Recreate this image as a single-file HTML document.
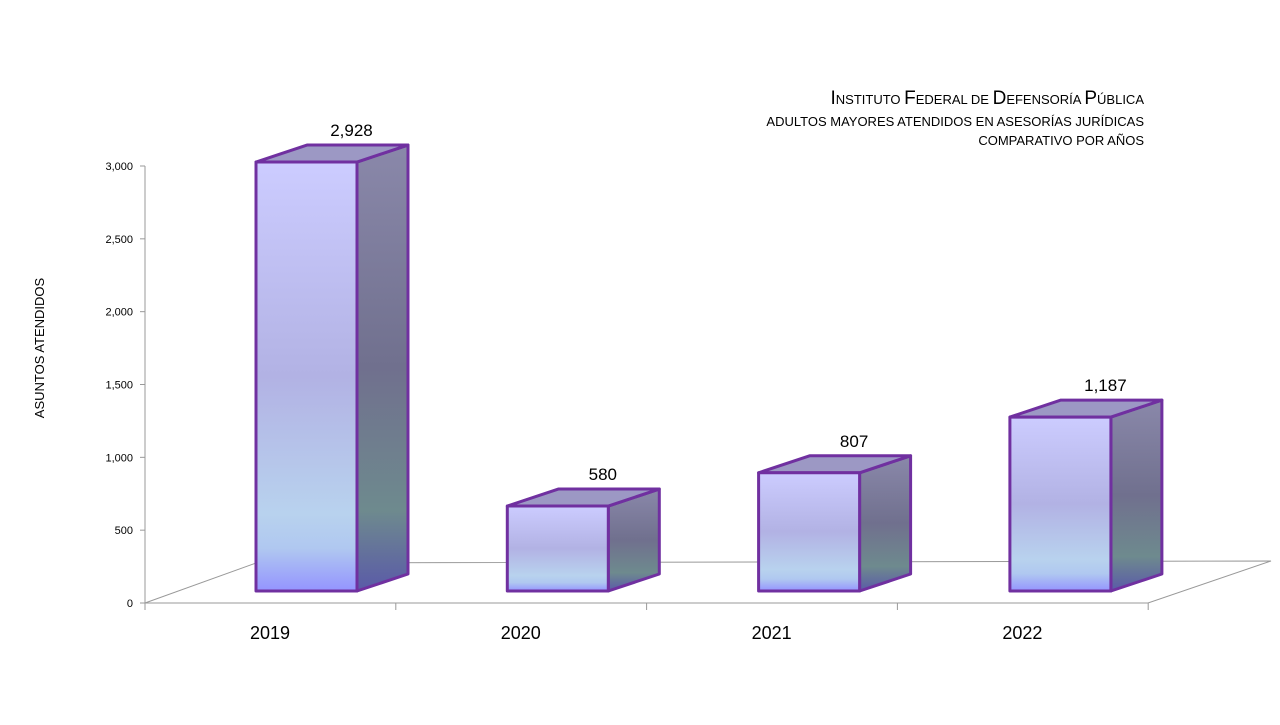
<!DOCTYPE html>
<html><head><meta charset="utf-8"><style>
body{margin:0;background:#fff;width:1280px;height:720px;overflow:hidden;font-family:"Liberation Sans",sans-serif}
</style></head><body>
<svg id="chart" width="1280" height="720" xmlns="http://www.w3.org/2000/svg" font-family="Liberation Sans, sans-serif">
<defs>
<linearGradient id="front" x1="0" y1="0" x2="0" y2="1">
<stop offset="0" stop-color="#ccccff"/><stop offset="0.5" stop-color="#b2b2e4"/><stop offset="0.82" stop-color="#b8d2ee"/><stop offset="0.9" stop-color="#b0c8f0"/><stop offset="1" stop-color="#9494ff"/></linearGradient>
<linearGradient id="side" x1="0" y1="0" x2="0" y2="1">
<stop offset="0" stop-color="#8a88aa"/><stop offset="0.5" stop-color="#70708e"/><stop offset="0.82" stop-color="#6e8a8e"/><stop offset="1" stop-color="#5a5aa8"/></linearGradient>
</defs>
<g text-anchor="end" fill="#000">
<text x="1144" y="104" font-size="17"><tspan font-size="19">I</tspan><tspan font-size="13">NSTITUTO </tspan><tspan font-size="19">F</tspan><tspan font-size="13">EDERAL DE </tspan><tspan font-size="19">D</tspan><tspan font-size="13">EFENSORÍA </tspan><tspan font-size="19">P</tspan><tspan font-size="13">ÚBLICA</tspan></text>
<text x="1144" y="126" font-size="13">ADULTOS MAYORES ATENDIDOS EN ASESORÍAS JURÍDICAS</text>
<text x="1144" y="145" font-size="13">COMPARATIVO POR AÑOS</text>
</g>
<text transform="translate(44,348) rotate(-90)" text-anchor="middle" font-size="13">ASUNTOS ATENDIDOS</text>
<g stroke="#999" fill="none" stroke-width="1">
<polyline points="145,603 256,563 1271,561 1148,603 145,603"/>
</g>
<g id="axes"></g>
<g id="bars"></g>
</svg>
<script>
const categories=["2019","2020","2021","2022"];
const values=[2928,580,807,1187];
const valueLabels=["2,928","580","807","1,187"];
const yTicks=[0,500,1000,1500,2000,2500,3000];
const yTickLabels=["0","500","1,000","1,500","2,000","2,500","3,000"];
const NS="http://www.w3.org/2000/svg";
const axisY=v=>603-v*(437/3000);
const barTop=v=>591-v*0.1465;
const barX=i=>256+i*251.3;
const W=101,DX=51,DY=17;
function mk(t,a,p){const e=document.createElementNS(NS,t);for(const k in a)e.setAttribute(k,a[k]);p.appendChild(e);return e;}
const ax=document.getElementById('axes');
const yl=mk('line',{x1:145,y1:166,x2:145,y2:603,stroke:'#999'},ax);


yTicks.forEach((t,i)=>{
 const y=axisY(t);
 const tk=mk('line',{x1:140,y1:y,x2:145,y2:y,stroke:'#999'},ax);
 
 
 const tx=mk('text',{x:133,y:y+4,'text-anchor':'end','font-size':11},ax);
 tx.textContent=yTickLabels[i];
 
 
});
for(let i=0;i<=categories.length;i++){
 const x=145+i*250.8;
 const tk=mk('line',{x1:x,y1:603,x2:x,y2:610,stroke:'#999'},ax);
 
 
}
const bg=document.getElementById('bars');
categories.forEach((c,i)=>{
 const x=barX(i),top=barTop(values[i]),bot=591;
 const g=mk('g',{stroke:'#7030a0','stroke-width':3,'stroke-linejoin':'round'},bg);
 
 
 mk('polygon',{points:`${x+W},${top} ${x+W+DX},${top-DY} ${x+W+DX},${bot-DY} ${x+W},${bot}`,fill:'url(#side)'},g);
 mk('polygon',{points:`${x},${top} ${x+DX},${top-DY} ${x+W+DX},${top-DY} ${x+W},${top}`,fill:'#9c98c4'},g);
 mk('rect',{x:x,y:top,width:W,height:bot-top,fill:'url(#front)'},g);
 const vl=mk('text',{x:x+W/2+45,y:top-26,'text-anchor':'middle','font-size':17},bg);
 vl.textContent=valueLabels[i];
 
 
 const cl=mk('text',{x:145+i*250.8+125,y:639,'text-anchor':'middle','font-size':18},bg);
 cl.textContent=c;
 
 
});
</script>
</body></html>
